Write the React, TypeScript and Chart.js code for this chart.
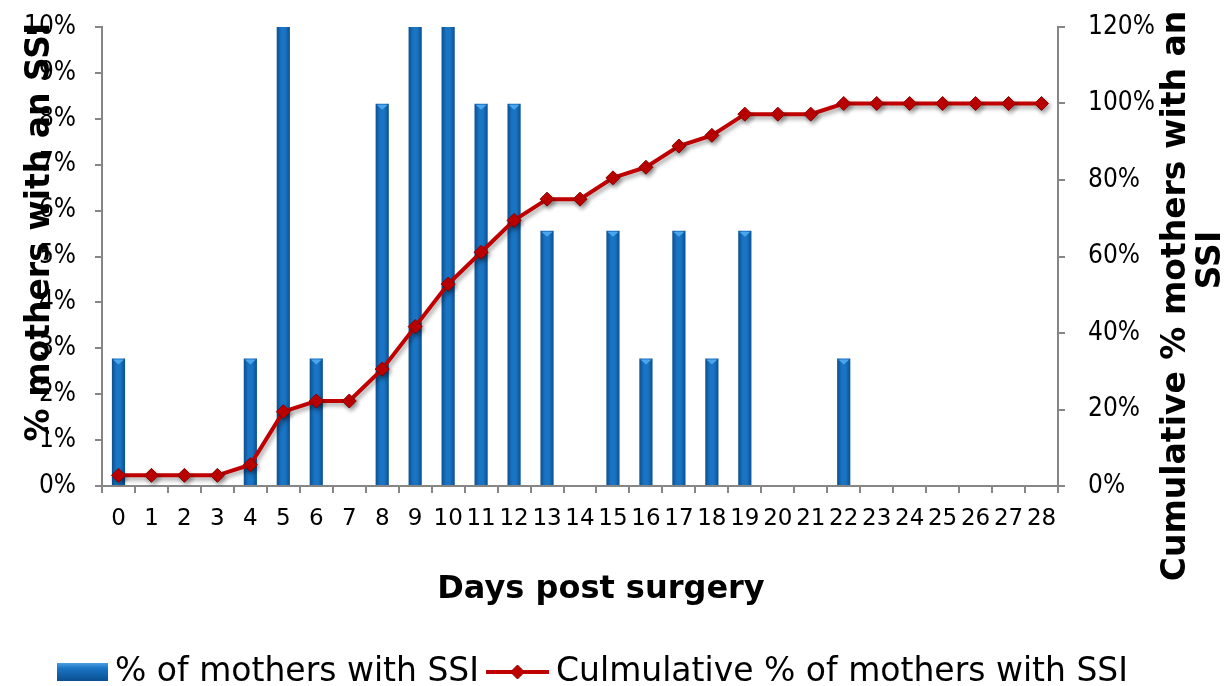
import { useEffect, useRef } from 'react';
import { Chart, registerables } from 'chart.js';

Chart.register(...registerables);

const days = ['0', '1', '2', '3', '4', '5', '6', '7', '8', '9', '10', '11', '12', '13', '14', '15', '16', '17', '18', '19', '20', '21', '22', '23', '24', '25', '26', '27', '28'];
const pctMothersSSI = [2.78, 0, 0, 0, 2.78, 13.89, 2.78, 0, 8.33, 11.11, 11.11, 8.33, 8.33, 5.56, 0, 5.56, 2.78, 5.56, 2.78, 5.56, 0, 0, 2.78, 0, 0, 0, 0, 0, 0];
const cumulativePct = [2.78, 2.78, 2.78, 2.78, 5.56, 19.44, 22.22, 22.22, 30.56, 41.67, 52.78, 61.11, 69.44, 75.0, 75.0, 80.56, 83.33, 88.89, 91.67, 97.22, 97.22, 97.22, 100, 100, 100, 100, 100, 100, 100];

const barLabel = '% of mothers with SSI';
const lineLabel = 'Culmulative % of mothers with SSI';
const xTitle = 'Days post surgery';
const leftTitle = '% mothers with an SSI';
const rightTitleLines = ['Cumulative % mothers with an', 'SSI'];

const FONT = "'DejaVu Sans', Verdana, sans-serif";
const FONT_COND = "'DejaVu Sans Condensed', 'DejaVu Sans', sans-serif";
const AXIS = '#868686';
const RED = '#c00000';

function drawDiamond(ctx: CanvasRenderingContext2D, x: number, y: number, r: number) {
  ctx.beginPath();
  ctx.moveTo(x - r, y);
  ctx.lineTo(x, y - r);
  ctx.lineTo(x + r, y);
  ctx.lineTo(x, y + r);
  ctx.closePath();
  ctx.fillStyle = RED;
  ctx.fill();
  ctx.strokeStyle = '#8a0000';
  ctx.lineWidth = 1;
  ctx.stroke();
}

const decorPlugin = {
  id: 'decor',
  beforeDatasetDraw(chart: any, args: any) {
    if (args.index === 1) {
      const ctx = chart.ctx;
      ctx.save();
      ctx.shadowColor = 'rgba(0,0,0,0.35)';
      ctx.shadowBlur = 4;
      ctx.shadowOffsetX = 2;
      ctx.shadowOffsetY = 3;
    }
  },
  afterDatasetDraw(chart: any, args: any) {
    const ctx = chart.ctx;
    if (args.index === 1) {
      ctx.restore();
    }
    if (args.index === 0) {
      const area = chart.chartArea;
      const meta = chart.getDatasetMeta(0);
      ctx.save();
      meta.data.forEach((el: any, i: number) => {
        if (!pctMothersSSI[i]) return;
        if (el.y < area.top) return;
        const w = el.width;
        ctx.beginPath();
        ctx.moveTo(el.x - w / 2 + 1, el.y + 1);
        ctx.lineTo(el.x + w / 2 - 1, el.y + 1);
        ctx.lineTo(el.x, el.y + 6);
        ctx.closePath();
        ctx.fillStyle = '#4aa6ec';
        ctx.fill();
      });
      ctx.restore();
    }
  },
  afterDraw(chart: any) {
    const { ctx, chartArea } = chart;
    ctx.save();
    ctx.fillStyle = '#000';
    ctx.textBaseline = 'middle';
    ctx.textAlign = 'center';
    ctx.font = `bold 32px ${FONT}`;

    ctx.fillText(xTitle, chartArea.left + 499, 590);

    ctx.font = `bold 33px ${FONT}`;
    ctx.save();
    ctx.translate(40, 232);
    ctx.rotate(-Math.PI / 2);
    ctx.fillText(leftTitle, 0, 0);
    ctx.restore();

    ctx.save();
    ctx.translate(1176, 296);
    ctx.rotate(-Math.PI / 2);
    ctx.fillText(rightTitleLines[0], 0, 0);
    ctx.restore();
    ctx.save();
    ctx.translate(1211, 260);
    ctx.rotate(-Math.PI / 2);
    ctx.fillText(rightTitleLines[1], 0, 0);
    ctx.restore();

    const ly = 672;
    ctx.font = `33px ${FONT}`;
    ctx.textAlign = 'left';
    const boxX = 57;
    const g = ctx.createLinearGradient(0, ly - 9, 0, ly + 9);
    g.addColorStop(0, '#4a9de0');
    g.addColorStop(0.3, '#1a74c4');
    g.addColorStop(1, '#0a4f90');
    ctx.fillStyle = g;
    ctx.fillRect(boxX, ly - 9, 51, 18);
    ctx.fillStyle = '#000';
    const t1x = boxX + 51 + 7;
    ctx.fillText(barLabel, t1x, ly);
    const w1 = ctx.measureText(barLabel).width;
    const lx = t1x + w1 + 7;
    ctx.strokeStyle = RED;
    ctx.lineWidth = 4;
    ctx.beginPath();
    ctx.moveTo(lx, ly);
    ctx.lineTo(lx + 63, ly);
    ctx.stroke();
    drawDiamond(ctx, lx + 31.5, ly, 7);
    ctx.fillStyle = '#000';
    ctx.fillText(lineLabel, lx + 63 + 7, ly);
    ctx.restore();
  },
};

export default function App() {
  const ref = useRef<HTMLCanvasElement | null>(null);

  useEffect(() => {
    if (!ref.current) return;
    const chart = new Chart(ref.current, {
      type: 'bar',
      data: {
        labels: days,
        datasets: [
          {
            type: 'bar',
            label: barLabel,
            data: pctMothersSSI,
            yAxisID: 'y',
            order: 2,
            barPercentage: 0.4,
            categoryPercentage: 1,
            backgroundColor: (c: any) => {
              const ch = c.chart;
              const xs = ch.scales?.x;
              if (!xs || c.dataIndex === undefined) return '#1068b4';
              const x = xs.getPixelForValue(c.dataIndex);
              const w = (xs.width / days.length) * 0.4;
              if (!Number.isFinite(x) || !Number.isFinite(w) || w <= 0) return '#1068b4';
              const g = ch.ctx.createLinearGradient(x - w / 2, 0, x + w / 2, 0);
              g.addColorStop(0, '#0a4f90');
              g.addColorStop(0.35, '#1a74c4');
              g.addColorStop(0.65, '#1a74c4');
              g.addColorStop(1, '#0a4f90');
              return g;
            },
            borderWidth: 0,
          } as any,
          {
            type: 'line',
            label: lineLabel,
            data: cumulativePct,
            yAxisID: 'y1',
            order: 1,
            borderColor: RED,
            borderWidth: 4,
            pointStyle: 'rectRot',
            pointRadius: 7,
            pointBackgroundColor: RED,
            pointBorderColor: '#8a0000',
            pointBorderWidth: 1,
            tension: 0,
          } as any,
        ],
      },
      options: {
        animation: false,
        responsive: true,
        maintainAspectRatio: false,
        layout: { padding: { top: 27, right: 0, bottom: 0, left: 0 } },
        plugins: {
          legend: { display: false },
          tooltip: { enabled: false },
          title: { display: false },
        },
        scales: {
          x: {
            offset: true,
            grid: { display: true, drawOnChartArea: false, drawTicks: true, tickLength: 7, color: AXIS, offset: true, lineWidth: 2 },
            border: { color: AXIS, width: 2 },
            ticks: { font: { family: FONT, size: 23 }, color: '#000', padding: 12, maxRotation: 0, autoSkip: false },
            afterFit: (s: any) => { s.height = 200; s.paddingLeft = 0; s.paddingRight = 0; },
          },
          y: {
            position: 'left',
            min: 0,
            max: 10,
            grid: { drawOnChartArea: false, drawTicks: true, tickLength: 7, color: AXIS, lineWidth: 2 },
            border: { color: AXIS, width: 2 },
            ticks: { stepSize: 1, callback: (v: any) => `${v}%`, font: { family: FONT_COND, size: 26 }, color: '#000', padding: 19 },
            afterFit: (s: any) => { s.width = 102; s.paddingTop = 0; s.paddingBottom = 0; },
          },
          y1: {
            position: 'right',
            min: 0,
            max: 120,
            grid: { drawOnChartArea: false, drawTicks: true, tickLength: 7, color: AXIS, lineWidth: 2 },
            border: { color: AXIS, width: 2 },
            ticks: { stepSize: 20, callback: (v: any) => `${v}%`, font: { family: FONT_COND, size: 26 }, color: '#000', padding: 23 },
            afterFit: (s: any) => { s.width = 171; s.paddingTop = 0; s.paddingBottom = 0; },
          },
        },
      } as any,
      plugins: [decorPlugin],
    });
    return () => chart.destroy();
  }, []);

  return (
    <div style={{ position: 'fixed', left: 0, top: 0, width: 1229, height: 686, background: '#fff' }}>
      <canvas ref={ref} />
    </div>
  );
}
